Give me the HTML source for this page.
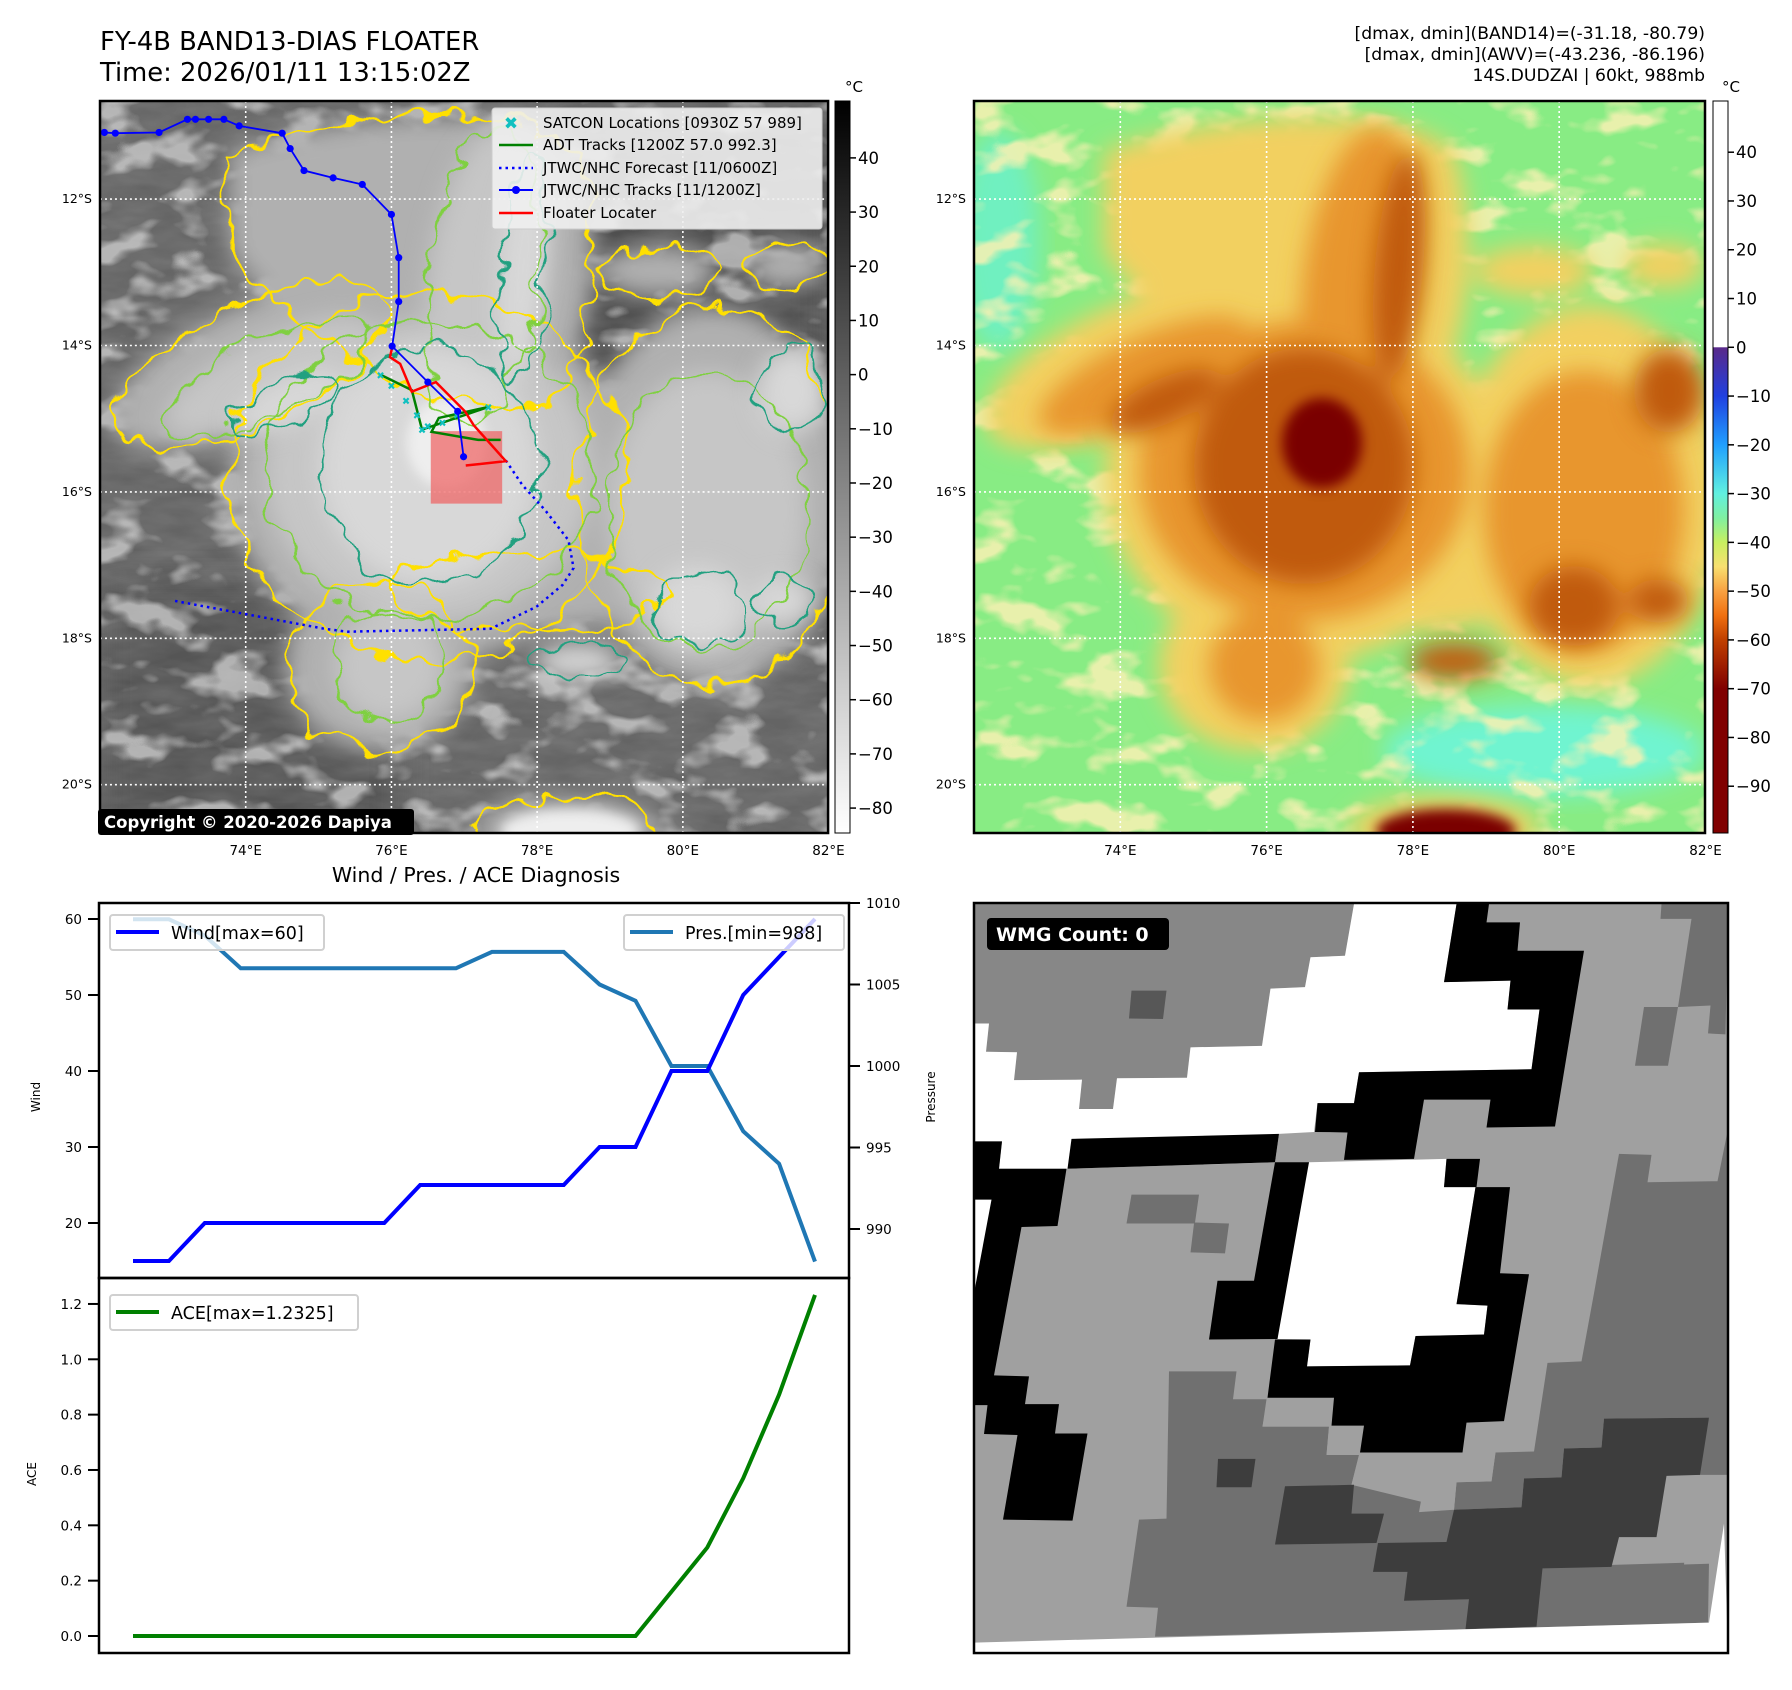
<!DOCTYPE html>
<html><head><meta charset="utf-8">
<style>
html,body{margin:0;padding:0;background:#fff;}
svg{display:block;font-family:"DejaVu Sans","Liberation Sans",sans-serif;}
</style></head>
<body>
<svg id="root" width="1792" height="1690" viewBox="0 0 1792 1690" xmlns="http://www.w3.org/2000/svg">
<defs>
  <filter id="blur16" x="-20%" y="-20%" width="140%" height="140%"><feGaussianBlur stdDeviation="16"/></filter>
  <filter id="blur12" x="-20%" y="-20%" width="140%" height="140%"><feGaussianBlur stdDeviation="12"/></filter>
  <filter id="blur6" x="-20%" y="-20%" width="140%" height="140%"><feGaussianBlur stdDeviation="6"/></filter>
  <filter id="wig" x="-10%" y="-10%" width="120%" height="120%">
    <feTurbulence type="fractalNoise" baseFrequency="0.035" numOctaves="2" seed="3" result="n"/>
    <feDisplacementMap in="SourceGraphic" in2="n" scale="34" xChannelSelector="R" yChannelSelector="G"/>
  </filter>
  <filter id="tex" x="0" y="0" width="100%" height="100%">
    <feTurbulence type="fractalNoise" baseFrequency="0.02 0.06" numOctaves="3" seed="7"/>
    <feColorMatrix type="matrix" values="0 0 0 0 0.5  0 0 0 0 0.5  0 0 0 0 0.5  0.5 0 0 0 -0.1"/>
  </filter>
  <filter id="patchY" x="0" y="0" width="100%" height="100%">
    <feTurbulence type="fractalNoise" baseFrequency="0.018 0.03" numOctaves="3" seed="11"/>
    <feColorMatrix type="matrix" values="0 0 0 0 0.95  0 0 0 0 0.88  0 0 0 0 0.45  5 0 0 0 -2.6"/>
  </filter>
  <filter id="patchG" x="0" y="0" width="100%" height="100%">
    <feTurbulence type="fractalNoise" baseFrequency="0.018 0.03" numOctaves="3" seed="11"/>
    <feColorMatrix type="matrix" values="0 0 0 0 0.68  0 0 0 0 0.68  0 0 0 0 0.68  5 0 0 0 -2.6"/>
  </filter>
  <clipPath id="mapclip"><rect x="0" y="0" width="731" height="732"/></clipPath>
  <clipPath id="wmgclip"><rect x="10" y="16" width="1508" height="1507"/></clipPath>
  <g id="outer">
    <ellipse cx="330" cy="375" rx="200" ry="185"/>
    <path d="M130,50 C250,10 430,0 480,50 C510,150 490,260 450,310 L330,300 C240,250 170,210 130,150 Z"/>
    <ellipse cx="150" cy="265" rx="150" ry="60" transform="rotate(-25 150 265)"/>
    <ellipse cx="615" cy="395" rx="135" ry="190"/>
    <ellipse cx="280" cy="565" rx="95" ry="85"/>
    <ellipse cx="430" cy="490" rx="140" ry="40"/>
    <ellipse cx="690" cy="165" rx="40" ry="22"/>
    <ellipse cx="470" cy="728" rx="95" ry="32"/>
    <ellipse cx="560" cy="170" rx="60" ry="25"/>
  </g>
  <g id="inner">
    <ellipse cx="330" cy="370" rx="165" ry="150"/>
    <ellipse cx="385" cy="175" rx="55" ry="150" transform="rotate(8 385 175)"/>
    <ellipse cx="170" cy="275" rx="115" ry="38" transform="rotate(-25 170 275)"/>
    <ellipse cx="610" cy="410" rx="100" ry="140"/>
    <ellipse cx="290" cy="565" rx="55" ry="55"/>
  </g>
  <g id="deep">
    <ellipse cx="330" cy="365" rx="110" ry="118"/>
    <ellipse cx="425" cy="165" rx="24" ry="115" transform="rotate(5 425 165)"/>
    <ellipse cx="695" cy="290" rx="35" ry="42"/>
    <ellipse cx="685" cy="500" rx="30" ry="22"/>
    <ellipse cx="480" cy="560" rx="45" ry="18"/>
    <ellipse cx="600" cy="505" rx="45" ry="40"/>
    <ellipse cx="190" cy="300" rx="60" ry="22" transform="rotate(-25 190 300)"/>
  </g>
  <g id="core">
    <ellipse cx="348" cy="342" rx="40" ry="45"/>
    <ellipse cx="472" cy="730" rx="70" ry="22"/>
  </g>
  <linearGradient id="cb1" x1="0" y1="0" x2="0" y2="1">
    <stop offset="0" stop-color="#000"/><stop offset="1" stop-color="#fff"/>
  </linearGradient>
  <linearGradient id="cb2" x1="0" y1="0" x2="0" y2="1">
    <stop offset="0" stop-color="#ffffff"/>
    <stop offset="0.336" stop-color="#ffffff"/>
    <stop offset="0.337" stop-color="#5a2a8a"/>
    <stop offset="0.403" stop-color="#2040e0"/>
    <stop offset="0.47" stop-color="#20a0ff"/>
    <stop offset="0.536" stop-color="#60f0e0"/>
    <stop offset="0.57" stop-color="#80f0a0"/>
    <stop offset="0.603" stop-color="#c8f060"/>
    <stop offset="0.636" stop-color="#f8e070"/>
    <stop offset="0.67" stop-color="#f8a040"/>
    <stop offset="0.703" stop-color="#f07010"/>
    <stop offset="0.736" stop-color="#c04000"/>
    <stop offset="0.803" stop-color="#800000"/>
    <stop offset="1" stop-color="#800000"/>
  </linearGradient>
</defs>

<!-- titles -->
<text x="100" y="50" font-size="25.8">FY-4B BAND13-DIAS FLOATER</text>
<text x="100" y="81" font-size="25.8">Time: 2026/01/11 13:15:02Z</text>
<g font-size="17.2" text-anchor="end">
  <text x="1705" y="39">[dmax, dmin](BAND14)=(-31.18, -80.79)</text>
  <text x="1705" y="60">[dmax, dmin](AWV)=(-43.236, -86.196)</text>
  <text x="1705" y="81">14S.DUDZAI | 60kt, 988mb</text>
</g>

<!-- MAP 1 -->
<g transform="translate(100,101) scale(0.996,1)">
  <g clip-path="url(#mapclip)">
    <rect width="731" height="732" fill="#646464"/>
    <rect x="460" y="20" width="271" height="260" fill="#4a4a4a" filter="url(#blur16)"/>
    <rect x="0" y="480" width="300" height="252" fill="#555" filter="url(#blur16)"/>
    <rect width="731" height="732" filter="url(#tex)" opacity="0.6"/>
    <rect width="731" height="732" filter="url(#patchG)" opacity="0.7"/>
    <use href="#outer" fill="#b0b0b0" filter="url(#blur12)"/>
    <use href="#inner" fill="#c6c6c6" filter="url(#blur12)"/>
    <use href="#deep" fill="#d8d8d8" filter="url(#blur12)"/>
    <use href="#core" fill="#eeeeee" filter="url(#blur6)"/>
    <g filter="url(#wig)" fill="none">
      <use href="#outer" stroke="#ffe000" stroke-width="2.6"/>
      <use href="#inner" stroke="#7fd040" stroke-width="2.2"/>
      <use href="#deep" stroke="#20a080" stroke-width="2.2"/>
    </g>
    <g id="grid1"></g>
    <g id="tracks1"></g>
  </g>
  <rect width="731" height="732" fill="none" stroke="#000" stroke-width="2.5"/>
</g>
<!-- legend -->
<g>
  <rect x="492" y="108" width="330" height="121" rx="3" fill="#f0f0f0" fill-opacity="0.9" stroke="#ccc"/>
  <text x="511" y="129" font-size="17" fill="#10c0c0" text-anchor="middle" font-weight="bold">✖</text>
  <line x1="499" y1="145" x2="533" y2="145" stroke="#008000" stroke-width="2.5"/>
  <line x1="499" y1="168" x2="533" y2="168" stroke="#0000ff" stroke-width="2.5" stroke-dasharray="2.5,4"/>
  <line x1="499" y1="190" x2="533" y2="190" stroke="#0000ff" stroke-width="2"/>
  <circle cx="516" cy="190" r="4" fill="#0000ff"/>
  <line x1="499" y1="213" x2="533" y2="213" stroke="#ff0000" stroke-width="2.5"/>
  <g font-size="15" fill="#000">
    <text x="543" y="128">SATCON Locations [0930Z 57 989]</text>
    <text x="543" y="150">ADT Tracks [1200Z 57.0 992.3]</text>
    <text x="543" y="173">JTWC/NHC Forecast [11/0600Z]</text>
    <text x="543" y="195">JTWC/NHC Tracks [11/1200Z]</text>
    <text x="543" y="218">Floater Locater</text>
  </g>
</g>
<g>
  <rect x="98" y="809" width="316" height="26" rx="3" fill="#000"/>
  <text x="104" y="828" font-size="16.5" font-weight="bold" fill="#fff">Copyright © 2020-2026 Dapiya</text>
</g>
<rect x="835" y="101" width="15" height="732" fill="url(#cb1)" stroke="#000" stroke-width="1"/>
<text x="845" y="92" font-size="15">°C</text>
<g id="cb1ticks" font-size="16.5"></g>

<!-- MAP 2 -->
<g transform="translate(974,101)">
  <g clip-path="url(#mapclip)">
    <rect width="731" height="732" fill="#88ec84"/>
    <ellipse cx="570" cy="650" rx="160" ry="45" fill="#70f4d0" filter="url(#blur12)"/>
    <ellipse cx="25" cy="140" rx="40" ry="110" fill="#70f0c0" filter="url(#blur12)"/>
    <rect width="731" height="732" filter="url(#patchY)" opacity="0.85"/>
    <use href="#outer" fill="#f2d060" filter="url(#blur12)"/>
    <use href="#inner" fill="#e8962e" filter="url(#blur12)"/>
    <use href="#deep" fill="#c05a10" filter="url(#blur12)"/>
    <use href="#core" fill="#7a0000" filter="url(#blur6)"/>
    <g id="grid2"></g>
  </g>
  <rect width="731" height="732" fill="none" stroke="#000" stroke-width="2.5"/>
</g>
<rect x="1713" y="101" width="15" height="732" fill="url(#cb2)" stroke="#000" stroke-width="1"/>
<text x="1722" y="92" font-size="15">°C</text>
<g id="cb2ticks" font-size="16.5"></g>
<g id="maplabels" font-size="12.5"></g>

<!-- CHART -->
<text x="476" y="882" font-size="20.5" text-anchor="middle">Wind / Pres. / ACE Diagnosis</text>
<g id="chart"></g>

<!-- WMG -->
<g transform="translate(974,903) scale(0.5,0.4977) translate(-10,-16)">
  <g clip-path="url(#wmgclip)">
    <rect x="10" y="16" width="1508" height="1507" fill="#a0a0a0"/>
    <polygon fill="#878787" points="10,18 770,18 752,122 683,125 672,185 603,188 586,303 443,306 436,367 296,368 288,430 220,430 226,371 90,372 96,316 34,315 40,258 10,258"/>
    <polygon fill="#575757" points="325,192 395,192 388,249 320,248"/>
    <polygon fill="#fff" points="10,258 40,258 34,315 96,316 90,372 226,371 220,430 288,430 296,368 436,367 443,306 586,303 603,188 672,185 683,125 752,122 770,18 975,18 950,175 1083,172 1077,230 1141,230 1125,350 780,356 770,418 697,418 690,476 620,480 612,537 200,550 60,550 66,495 10,495"/>
    <polygon fill="#fff" points="680,537 955,530 950,587 1013,587 975,822 1037,825 1030,883 893,886 882,945 676,947 683,893 617,892 630,780 650,650"/>
    <polygon fill="#707070" points="1300,520 1365,522 1357,577 1497,575 1518,470 1518,1165 1450,1165 1480,1050 1270,1052 1265,1110 1190,1112 1185,1170 1110,1172 1105,1230 970,1235 975,1180 1045,1178 1053,1120 1130,1118 1157,940 1225,937 1250,800"/>
    <polygon fill="#707070" points="1385,18 1518,18 1513,280 1478,278 1483,222 1418,225 1445,48 1383,48"/>
    <polygon fill="#707070" points="1350,225 1418,225 1398,343 1332,343"/>
    <polygon fill="#707070" points="315,1430 340,1255 395,1253 400,957 535,957 528,1013 595,1013 587,1068 720,1068 715,1125 780,1125 765,1185 970,1235 1000,1415 1000,1475 372,1490 378,1432"/>
    <polygon fill="#707070" points="1000,1415 1150,1350 1480,1340 1478,1462 1000,1475"/>
    <polygon fill="#707070" points="325,602 460,602 452,658 520,660 512,720 443,718 450,660 315,660"/>
    <polygon fill="#a0a0a0" points="597,1013 730,1010 725,1066 790,1066 782,1120 995,1120 1053,1120 1045,1178 975,1180 970,1235 900,1240 910,1183 765,1185 780,1125 715,1125 720,1068 587,1068"/>
    <polygon fill="#3d3d3d" points="632,1188 770,1185 765,1243 830,1243 815,1302 612,1305"/>
    <polygon fill="#3d3d3d" points="498,1133 573,1133 565,1190 495,1190"/>
    <polygon fill="#3d3d3d" points="1270,1052 1480,1050 1462,1165 1395,1167 1375,1290 1300,1290 1285,1350 1147,1353 1135,1470 993,1475 1000,1415 870,1418 877,1360 808,1360 818,1302 955,1300 970,1235 1105,1230 1110,1172 1185,1170 1190,1112 1265,1110"/>
    <polygon fill="#a0a0a0" points="1452,1167 1518,1165 1513,1225 1448,1225"/>
    <polygon fill="#a0a0a0" points="1437,1287 1510,1287 1500,1343 1430,1345"/>
    <polygon fill="#000" points="975,18 1040,18 1035,55 1102,55 1097,112 1230,112 1172,465 1035,467 1043,411 910,411 890,530 750,532 757,477 692,476 697,418 770,418 780,356 1125,350 1141,230 1077,230 1083,172 950,175"/>
    <polygon fill="#000" points="955,530 1022,530 1015,587 950,587"/>
    <polygon fill="#000" points="1013,587 1082,587 1062,760 1120,762 1070,1057 995,1060 987,1120 782,1120 790,1066 725,1066 730,1010 597,1010 612,893 683,893 676,947 882,945 893,886 1030,883 1037,825 975,822"/>
    <polygon fill="#000" points="612,537 680,537 617,892 480,893 497,775 570,775"/>
    <polygon fill="#000" points="205,490 620,480 612,537 197,550"/>
    <polygon fill="#000" points="10,495 66,495 60,550 195,550 177,665 105,667 50,965 120,967 112,1023 180,1023 172,1082 237,1082 207,1257 68,1255 97,1085 30,1083 37,1025 10,1025"/>
    <polygon fill="#fff" points="10,612 45,612 10,800"/>
    <polygon fill="#fff" points="10,1502 1480,1462 1510,1263 1518,1523 10,1523"/>
  </g>
  <rect x="10" y="16" width="1508" height="1507" fill="none" stroke="#000" stroke-width="5"/>
</g>
<g>
  <rect x="987" y="918" width="182" height="32" rx="4" fill="#000"/>
  <text x="996" y="941" font-size="19" font-weight="bold" fill="#fff">WMG Count: 0</text>
</g>

<script>
// ---- chart data ----
const times = [0,1,2,3,4,5,6,7,8,9,10,11,12,13,14,15,16,17,18,19];
const wind = [15,15,20,20,20,20,20,20,25,25,25,25,25,30,30,40,40,50,55,60];
const pres = [1009,1009,1008,1006,1006,1006,1006,1006,1006,1006,1007,1007,1007,1005,1004,1000,1000,996,994,988];
const ace = [0,0,0,0,0,0,0,0,0,0,0,0,0,0,0,0.16,0.32,0.57,0.8725,1.2325];
const windTicks = [20,30,40,50,60];
const presTicks = [990,995,1000,1005,1010];
const aceTicks = [0.0,0.2,0.4,0.6,0.8,1.0,1.2];
// ---- map track data (lon E, lat S) ----
const jtwcLon = [72.06,72.21,72.81,73.20,73.31,73.49,73.70,73.91,74.50,74.61,74.80,75.20,75.60,76.00,76.10,76.10,76.01,76.50,76.91,76.99];
const jtwcLat = [11.09,11.10,11.09,10.91,10.91,10.91,10.91,11.00,11.10,11.31,11.61,11.71,11.80,12.21,12.80,13.40,14.01,14.50,14.90,15.52];
const fcstLon = [77.57,77.80,78.11,78.43,78.50,78.35,77.99,77.36,75.39,75.08,73.03];
const fcstLat = [15.57,15.91,16.25,16.66,17.04,17.27,17.57,17.87,17.91,17.87,17.49];
const floatLon = [76.02,75.98,76.12,76.28,76.61,77.01,77.13,77.57,77.02];
const floatLat = [13.98,14.16,14.25,14.63,14.50,14.90,15.09,15.58,15.64];
const adtLon = [75.85,76.28,76.42,77.33,76.65,76.55,77.19,77.50];
const adtLat = [14.40,14.61,15.15,14.84,14.99,15.18,15.29,15.29];
const satLon = [75.85,76.0,76.2,76.35,76.42,76.5,76.7,76.9,77.33];
const satLat = [14.40,14.55,14.75,14.95,15.15,15.1,15.05,14.95,14.84];
const lonTicks = [74,76,78,80,82];
const latTicks = [12,14,16,18,20];
const cb1Ticks = [40,30,20,10,0,-10,-20,-30,-40,-50,-60,-70,-80];
const cb2Ticks = [40,30,20,10,0,-10,-20,-30,-40,-50,-60,-70,-80,-90];

const NS = "http://www.w3.org/2000/svg";
function mk(tag, attrs, parent){const e=document.createElementNS(NS,tag);for(const k in attrs)e.setAttribute(k,attrs[k]);parent.appendChild(e);return e;}
const lx = lon => (lon-72)*73.15;
const ly = lat => (lat-10.66)*73.2;
const fmt = v => (v<0?"\u2212"+Math.abs(v):""+v);

["grid1","grid2"].forEach(id=>{
  const g=document.getElementById(id);
  lonTicks.forEach(l=>{const e=mk("line",{x1:lx(l),x2:lx(l),y1:0,y2:732,stroke:"#fff","stroke-width":1.6,"stroke-dasharray":"2,3"},g);
    
    });
  latTicks.forEach(l=>{const e=mk("line",{x1:0,x2:731,y1:ly(l),y2:ly(l),stroke:"#fff","stroke-width":1.6,"stroke-dasharray":"2,3"},g);
    
    });
});
const ml=document.getElementById("maplabels");
[[100,828],[974,1705]].forEach(([x0,x1])=>{
  latTicks.forEach(l=>{const t=mk("text",{x:x0-8,y:101+ly(l)+4,"text-anchor":"end"},ml);t.textContent=l+"°S";
    
    });
  lonTicks.forEach(l=>{const t=mk("text",{x:x0+lx(l)*(x1-x0)/731,y:855,"text-anchor":"middle","font-size":13.5},ml);t.textContent=l+"°E";
    
    });
});
function cbt(gid,ticks,x,top,pxPer){
  const g=document.getElementById(gid);
  ticks.forEach(v=>{const y=top+(50.5-v)*pxPer;
    mk("line",{x1:x+15,x2:x+21,y1:y,y2:y,stroke:"#000","stroke-width":1.5},g);
    const t=mk("text",{x:x+23,y:y+6},g);t.textContent=fmt(v);
    
    });
}
cbt("cb1ticks",cb1Ticks,835,101,732/135.1);
cbt("cb2ticks",cb2Ticks,1713,101,4.877);
const tr=document.getElementById("tracks1");
function pts(lo,la){return lo.map((v,i)=>lx(v)+","+ly(la[i])).join(" ");}
const rect=mk("rect",{x:lx(76.54),y:ly(15.17),width:lx(77.52)-lx(76.54),height:ly(16.16)-ly(15.17),fill:"#f06060","fill-opacity":0.7},tr);


const fc=mk("polyline",{points:pts(fcstLon,fcstLat),fill:"none",stroke:"#0000ff","stroke-width":2.5,"stroke-dasharray":"2.5,4"},tr);


const ad=mk("polyline",{points:pts(adtLon,adtLat),fill:"none",stroke:"#008000","stroke-width":2.5},tr);


satLon.forEach((v,i)=>{const t=mk("text",{x:lx(v),y:ly(satLat[i])+4,"font-size":10,fill:"#10c0c0","text-anchor":"middle"},tr);t.textContent="✖";
  
  });
const fl=mk("polyline",{points:pts(floatLon,floatLat),fill:"none",stroke:"#ff0000","stroke-width":2.5},tr);


const jt=mk("polyline",{points:pts(jtwcLon,jtwcLat),fill:"none",stroke:"#0000ff","stroke-width":1.8},tr);


jtwcLon.forEach((v,i)=>{const c=mk("circle",{cx:lx(v),cy:ly(jtwcLat[i]),r:3.6,fill:"#0000ff"},tr);
  
  });

// ---- chart ----
const ch=document.getElementById("chart");
const X0=99,X1=849,T=903,MID=1278,B=1653;
const xs = i => 133 + i*(815-133)/19;
const yw = w => 1223 - (w-20)*7.6;
const yp = p => 903 + (1010-p)*16.3;
const ya = a => 1636 - a*276.7;
function line(xsArr,ysArr,col,name){const e=mk("polyline",{points:xsArr.map((x,i)=>x+","+ysArr[i]).join(" "),fill:"none",stroke:col,"stroke-width":4,"stroke-linejoin":"miter"},ch);
  
  }
line(times.map(xs),pres.map(yp),"#1f77b4","pressure-line");
line(times.map(xs),wind.map(yw),"#0000ff","wind-line");
line(times.map(xs),ace.map(ya),"#008000","ace-line");
mk("rect",{x:X0,y:T,width:X1-X0,height:MID-T,fill:"none",stroke:"#000","stroke-width":2.5},ch);
mk("rect",{x:X0,y:MID,width:X1-X0,height:B-MID,fill:"none",stroke:"#000","stroke-width":2.5},ch);
function tick(x,y,dir,label,anchor,name){
  mk("line",{x1:x,x2:x+dir*11,y1:y,y2:y,stroke:"#000","stroke-width":2},ch);
  const t=mk("text",{x:x+dir*17,y:y+5,"font-size":13.5,"text-anchor":anchor},ch);t.textContent=label;
  
  
}
windTicks.forEach(v=>tick(X0,yw(v),-1,""+v,"end","wind-tick-label"));
presTicks.forEach(v=>tick(X1,yp(v),1,""+v,"start","pressure-tick-label"));
aceTicks.forEach(v=>tick(X0,ya(v),-1,v.toFixed(1),"end","ace-tick-label"));
function vlabel(x,y,s,name){const t=mk("text",{x:x,y:y,"font-size":12,"text-anchor":"middle",transform:`rotate(-90 ${x} ${y})`},ch);t.textContent=s;
  
  }
vlabel(40,1097,"Wind","wind-axis-title");
vlabel(36,1474,"ACE","ace-axis-title");
vlabel(935,1097,"Pressure","pressure-axis-title");
function legend(x,y,w,col,label,name){
  const g=mk("g",{},ch);
  
  
  mk("rect",{x:x,y:y,width:w,height:35,rx:3,fill:"#fff","fill-opacity":0.8,stroke:"#d0d0d0","stroke-width":2},g);
  mk("line",{x1:x+6,x2:x+49,y1:y+17,y2:y+17,stroke:col,"stroke-width":4},g);
  const t=mk("text",{x:x+61,y:y+24,"font-size":17.5},g);t.textContent=label;
}
legend(110,915,214,"#0000ff","Wind[max=60]","wind-legend");
legend(624,915,220,"#1f77b4","Pres.[min=988]","pressure-legend");
legend(110,1295,248,"#008000","ACE[max=1.2325]","ace-legend");
</script>
</svg>
</body></html>
